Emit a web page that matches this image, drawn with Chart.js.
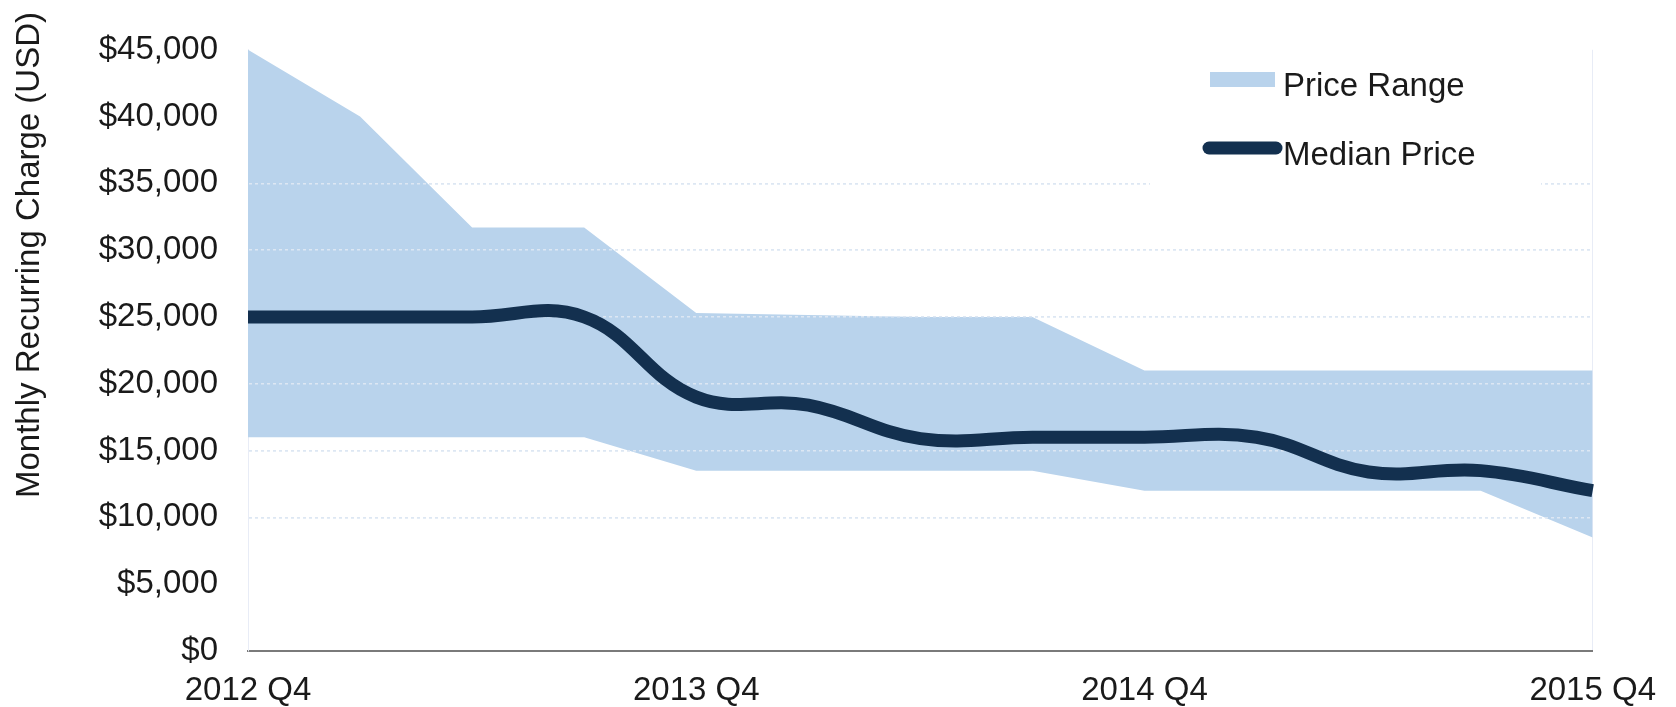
<!DOCTYPE html>
<html>
<head>
<meta charset="utf-8">
<script src="https://cdn.jsdelivr.net/npm/chart.js@4/dist/chart.umd.min.js"></script>
<style>
  html, body { margin: 0; padding: 0; background: #fff; }
  #box { width: 1676px; height: 707px; }
</style>
</head>
<body>
<div id="box"><canvas id="pricechart"></canvas></div>
<script>
// quarters on the x axis
var quarters = ['2012 Q4', '2013 Q1', '2013 Q2', '2013 Q3', '2013 Q4', '2014 Q1', '2014 Q2',
                '2014 Q3', '2014 Q4', '2015 Q1', '2015 Q2', '2015 Q3', '2015 Q4'];
// top and bottom of the price range band
var rangeHigh = [45000, 40000, 31700, 31700, 25300, 25150, 25000, 25000, 21000, 21000, 21000, 21000, 21000];
var rangeLow  = [16000, 16000, 16000, 16000, 13500, 13500, 13500, 13500, 12000, 12000, 12000, 12000, 8500];
// median price line
var medianPrice = [25000, 25000, 25000, 25000, 19000, 18400, 15900, 16000, 16000, 16000, 13400, 13500, 12000];
// only these y values get a dotted grid line
var gridValues = [10000, 15000, 20000, 25000, 30000, 35000];

var bandColor = 'rgb(185, 211, 236)';
var lineColor = '#13304f';
var textColor = '#1a1a1a';
var fontFamily = '"Liberation Sans", Arial, Helvetica, sans-serif';

// grid lines sit on top of the band but under the median line
var gridOverBand = {
    id: 'gridOverBand',
    afterDatasetDraw: function(chart, args) {
        if (args.index === 1) {
            chart.scales.y.drawGrid(chart.chartArea);
        }
    }
};

// y axis title and the legend box
var extras = {
    id: 'extras',
    afterDraw: function(chart) {
        var ctx = chart.ctx;
        ctx.save();
        ctx.font = '33px ' + fontFamily;
        ctx.fillStyle = textColor;

        // axis title
        ctx.save();
        ctx.translate(30, 255);
        ctx.rotate(-Math.PI / 2);
        ctx.textAlign = 'center';
        ctx.textBaseline = 'middle';
        ctx.fillText('Monthly Recurring Charge (USD)', 0, 0);
        ctx.restore();

        // legend
        ctx.fillStyle = '#fff';
        ctx.fillRect(1150, 50, 391, 140);

        ctx.fillStyle = chart.data.datasets[1].backgroundColor;
        ctx.fillRect(1210, 72, 65, 15);

        ctx.strokeStyle = chart.data.datasets[0].borderColor;
        ctx.lineWidth = 13;
        ctx.lineCap = 'round';
        ctx.beginPath();
        ctx.moveTo(1209, 148);
        ctx.lineTo(1276, 148);
        ctx.stroke();

        ctx.fillStyle = textColor;
        ctx.textAlign = 'left';
        ctx.textBaseline = 'alphabetic';
        ctx.fillText(chart.data.datasets[1].label, 1283, 96);
        ctx.fillText(chart.data.datasets[0].label, 1283, 165);
        ctx.restore();
    }
};

var ctx = document.getElementById('pricechart').getContext('2d');
var chart = new Chart(ctx, {
    type: 'line',
    data: {
        labels: quarters,
        datasets: [{
            label: 'Median Price',
            data: medianPrice,
            borderColor: lineColor,
            borderWidth: 13,
            tension: 0.4,
            pointRadius: 0,
            fill: false
        }, {
            label: 'Price Range',
            data: rangeHigh,
            backgroundColor: bandColor,
            borderWidth: 0,
            tension: 0,
            pointRadius: 0,
            fill: '+1'
        }, {
            label: 'Range Low',
            data: rangeLow,
            borderWidth: 0,
            tension: 0,
            pointRadius: 0,
            fill: false
        }]
    },
    options: {
        responsive: true,
        maintainAspectRatio: false,
        animation: false,
        layout: { padding: { top: 45, right: 81, left: 0, bottom: 0 } },
        plugins: {
            legend: { display: false },
            tooltip: { enabled: false }
        },
        scales: {
            x: {
                grid: {
                    drawTicks: false,
                    color: function(c) {
                        return c.index === quarters.length - 1 ? '#e8ecf6' : 'rgba(0,0,0,0)';
                    }
                },
                border: { color: '#7a7a7a', width: 2 },
                ticks: {
                    autoSkip: false,
                    maxRotation: 0,
                    padding: 20,
                    color: textColor,
                    font: { family: fontFamily, size: 33 },
                    callback: function(v, i) {
                        return i % 4 === 0 ? quarters[i] : '';
                    }
                },
                afterFit: function(scale) { scale.height = 56; }
            },
            y: {
                min: 0,
                max: 45000,
                grid: {
                    drawTicks: false,
                    lineWidth: 1.5,
                    color: function(c) {
                        return gridValues.indexOf(c.tick.value) >= 0 ? 'rgb(221, 231, 243)' : 'rgba(0,0,0,0)';
                    }
                },
                border: { color: '#e8ecf6', width: 1, dash: [3, 3] },
                ticks: {
                    stepSize: 5000,
                    padding: 30,
                    color: textColor,
                    font: { family: fontFamily, size: 33 },
                    callback: function(v) {
                        return '$' + v.toLocaleString('en-US');
                    }
                },
                afterFit: function(scale) { scale.width = 248; }
            }
        }
    },
    plugins: [gridOverBand, extras]
});
</script>
</body>
</html>
